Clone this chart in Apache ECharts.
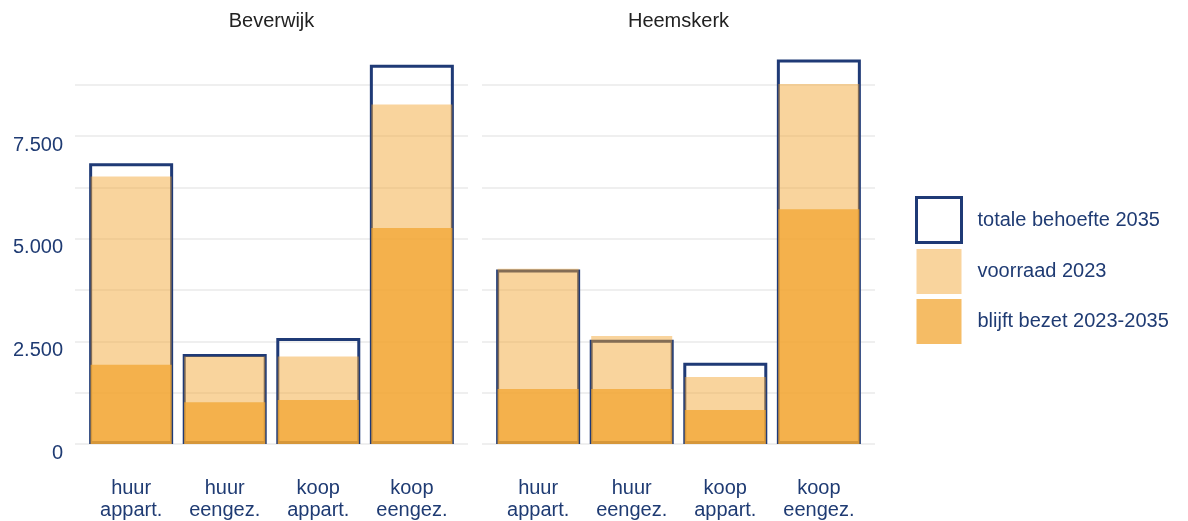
<!DOCTYPE html>
<html>
<head>
<meta charset="utf-8">
<script src="https://cdn.jsdelivr.net/npm/echarts@6/dist/echarts.min.js"></script>
<style>
  html, body { margin: 0; padding: 0; background: #fff; }
  #chart { width: 1188px; height: 521px; }
</style>
</head>
<body>
<div id="chart"></div>
<script>
// Woningtypen (x-as) en de twee gemeenten
const categories = ['huur\nappart.', 'huur\neengez.', 'koop\nappart.', 'koop\neengez.'];
const gemeenten = ['Beverwijk', 'Heemskerk'];

// Beverwijk
const beverwijkBehoefte = [6840, 2190, 2580, 9240];
const beverwijkVoorraad = [6520, 2130, 2130, 8270];
const beverwijkBlijft   = [1930, 1020, 1070, 5260];

// Heemskerk
const heemskerkBehoefte = [4250, 2540, 1980, 9370];
const heemskerkVoorraad = [4270, 2630, 1630, 8770];
const heemskerkBlijft   = [1340, 1340, 830, 5720];

// y-as: rasterlijnen om de 1.250, labels om de 2.500
const yTickLabels = { 0: '0', 2500: '2.500', 5000: '5.000', 7500: '7.500' };

const NAMES = ['totale behoefte 2035', 'voorraad 2023', 'blijft bezet 2023-2035'];
const NAVY = '#1F3A76';
const TEXT = '#1F3B73';
const FONT = '"Liberation Sans", Arial, sans-serif';
const VOORRAAD = 'rgba(242,165,50,0.48)';
const BLIJFT = 'rgba(242,165,50,0.75)';
const OUTLINE_W = 84;   // breedte van de omlijnde behoeftebalk
const FILL_W = 81;      // gevulde balken passen binnen de omlijning

const toPoints = arr => arr.map((v, i) => [i + 1, v]);

const grids = [
  { left: 75, width: 393, top: 50, height: 394 },
  { left: 482, width: 393, top: 50, height: 394 }
];

// per paneel twee identieke x-assen: één voor de omlijning, één voor de vullingen
const xAxes = [];
grids.forEach((g, gi) => {
  [true, false].forEach(visible => {
    xAxes.push({
      type: 'value',
      gridIndex: gi,
      min: 0.4,
      max: 4.6,
      show: visible,
      axisLine: { show: false },
      axisTick: { show: false },
      splitLine: { show: false },
      axisLabel: {
        customValues: [1, 2, 3, 4],
        formatter: v => categories[Math.round(v) - 1] || '',
        color: TEXT,
        fontFamily: FONT,
        fontSize: 20,
        lineHeight: 22,
        margin: 33,
        align: 'center'
      }
    });
  });
});

const yAxes = grids.map((g, gi) => ({
  type: 'value',
  gridIndex: gi,
  min: 0,
  max: 9600,
  interval: 1250,
  axisLine: { show: false },
  axisTick: { show: false },
  splitLine: {
    show: true,
    showMaxLine: false,
    lineStyle: { color: '#EAEAEA', width: 1.5 }
  },
  axisLabel: {
    show: gi === 0,
    formatter: v => (yTickLabels[v] !== undefined ? yTickLabels[v] : ''),
    color: TEXT,
    fontFamily: FONT,
    fontSize: 20,
    lineHeight: 18,
    margin: 12,
    verticalAlign: 'top'
  }
}));

function facetSeries(gi, behoefte, voorraad, blijft) {
  const outlineAxis = gi * 2;
  const fillAxis = gi * 2 + 1;
  return [
    {
      type: 'bar', name: NAMES[0],
      xAxisIndex: outlineAxis, yAxisIndex: gi,
      barWidth: OUTLINE_W,
      data: toPoints(behoefte),
      itemStyle: { color: 'rgba(255,255,255,0)', borderColor: NAVY, borderWidth: 3 }
    },
    {
      type: 'bar', name: NAMES[1],
      xAxisIndex: fillAxis, yAxisIndex: gi,
      barWidth: FILL_W, barGap: '-100%',
      data: toPoints(voorraad),
      itemStyle: { color: VOORRAAD }
    },
    {
      type: 'bar', name: NAMES[2],
      xAxisIndex: fillAxis, yAxisIndex: gi,
      barWidth: FILL_W, barGap: '-100%',
      data: toPoints(blijft),
      itemStyle: { color: BLIJFT }
    }
  ];
}

const option = {
  backgroundColor: '#fff',
  animation: false,
  title: gemeenten.map((name, gi) => ({
    text: name,
    left: grids[gi].left + grids[gi].width / 2,
    top: 11,
    padding: 0,
    textAlign: 'center',
    textStyle: { fontFamily: FONT, fontSize: 20, fontWeight: 'normal', color: '#222' }
  })),
  legend: {
    orient: 'vertical',
    left: 915,
    top: 196,
    padding: 0,
    icon: 'rect',
    itemWidth: 45,
    itemHeight: 45,
    itemGap: 5,
    selectedMode: false,
    textStyle: { color: TEXT, fontFamily: FONT, fontSize: 20, padding: [0, 0, 0, 11] },
    data: [
      { name: NAMES[0], itemStyle: { color: '#fff', borderColor: NAVY, borderWidth: 3 } },
      { name: NAMES[1], itemStyle: { color: VOORRAAD, borderWidth: 0 } },
      { name: NAMES[2], itemStyle: { color: BLIJFT, borderWidth: 0 } }
    ]
  },
  grid: grids,
  xAxis: xAxes,
  yAxis: yAxes,
  series: [
    ...facetSeries(0, beverwijkBehoefte, beverwijkVoorraad, beverwijkBlijft),
    ...facetSeries(1, heemskerkBehoefte, heemskerkVoorraad, heemskerkBlijft)
  ]
};

const chart = echarts.init(document.getElementById('chart'), null, { renderer: 'canvas' });
chart.setOption(option);
</script>
</body>
</html>
